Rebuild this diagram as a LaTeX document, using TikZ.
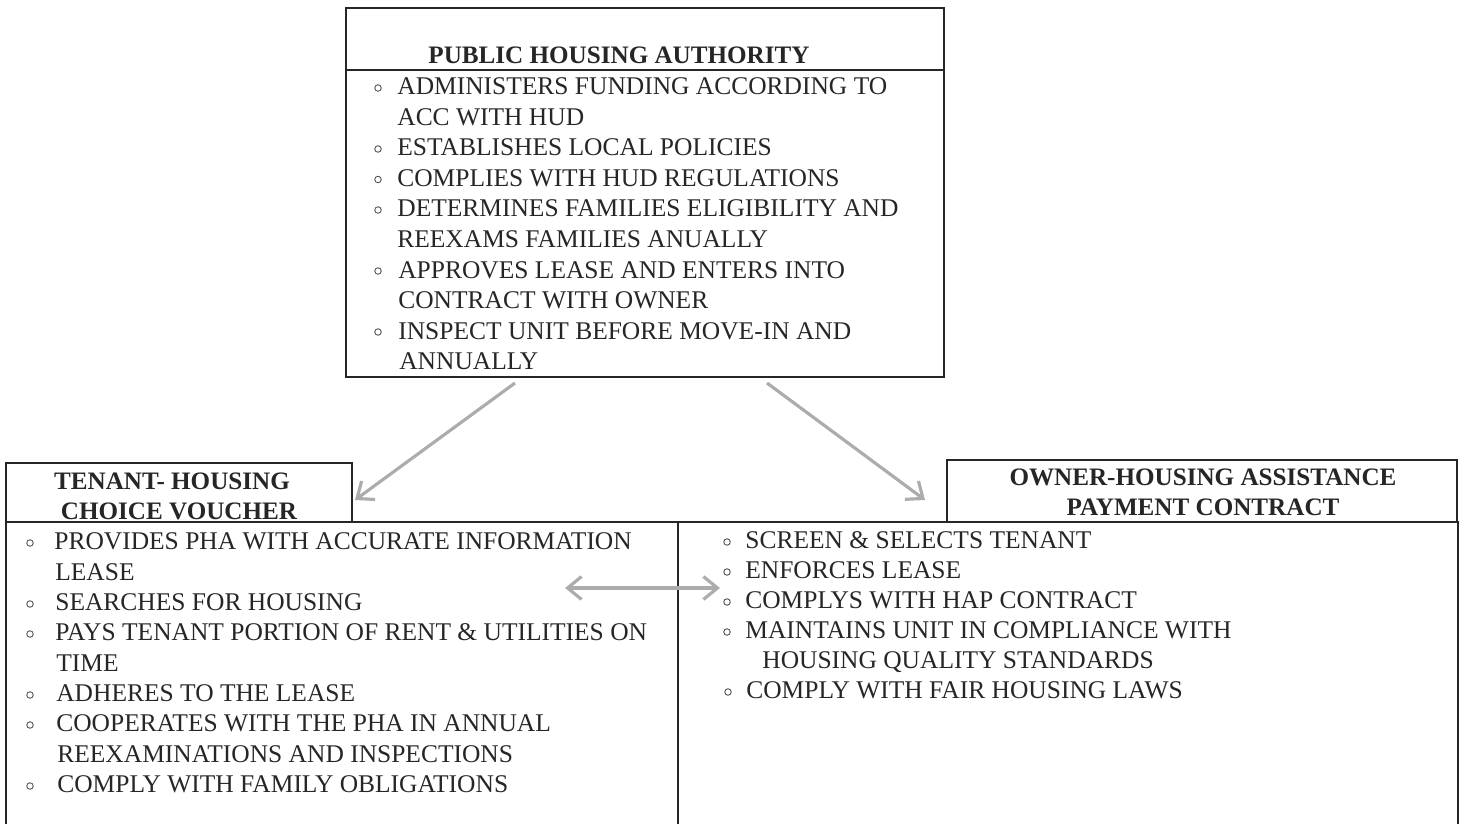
\documentclass[tikz,border=0pt]{standalone}
\usepackage{fontspec}
\setmainfont{Liberation Serif}
\usetikzlibrary{arrows.meta}

\tikzset{
  box/.style={draw=black!85, line width=0.8pt, inner sep=0pt},
  hd/.style={font=\fontsize{14.3}{17.2}\selectfont\bfseries, text=black!85, inner sep=0pt, anchor=base},
  ln/.style={font=\fontsize{14.5}{17.2}\selectfont, text=black!85, inner sep=0pt, anchor=base west},
  bul/.style={draw=black!70, circle, line width=0.5pt, minimum size=0.13cm, inner sep=0pt},
  link/.style={draw=gray!65, line width=1.8pt, -{Straight Barb[length=8pt,width=13pt]}},
  twoway/.style={draw=gray!65, line width=1.8pt, {Straight Barb[length=8pt,width=13pt]}-{Straight Barb[length=8pt,width=13pt]}}
}

\begin{document}
\begin{tikzpicture}[x=0.02cm, y=-0.02cm]
\useasboundingbox (0,0) rectangle (1464,824);

% boxes
\node[box, minimum width=11.96cm, minimum height=7.38cm] (pha) at (645,192.5) {};
\draw[box] (346,70) -- (944,70);
\node[box, minimum width=6.92cm, minimum height=1.18cm] (tenhd) at (179,492.5) {};
\node[box, minimum width=13.44cm, minimum height=6.16cm] (tenbody) at (342,676) {};
\node[box, minimum width=10.2cm, minimum height=1.24cm] (ownhd) at (1202,491) {};
\node[box, minimum width=15.6cm, minimum height=6.16cm] (ownbody) at (1068,676) {};

% headers
\node[hd] (h1) at (619,63.5) {PUBLIC HOUSING AUTHORITY};
\node[hd] (h2) at (172,489.5) {TENANT- HOUSING};
\node[hd] (h3) at (179,519.5) {CHOICE VOUCHER};
\node[hd] (h4) at (1203,485.5) {OWNER-HOUSING ASSISTANCE};
\node[hd] (h5) at (1203,515.5) {PAYMENT CONTRACT};

% public housing authority
\node[bul] (pb1) at (378,88) {};
\node[bul] (pb2) at (378,149) {};
\node[bul] (pb3) at (378,179.5) {};
\node[bul] (pb4) at (378,210) {};
\node[bul] (pb5) at (378,271) {};
\node[bul] (pb6) at (378,332) {};
\node[ln] (p1) at (397,95) {ADMINISTERS FUNDING ACCORDING TO};
\node[ln] (p2) at (397,125.5) {ACC WITH HUD};
\node[ln] (p3) at (397,156) {ESTABLISHES LOCAL POLICIES};
\node[ln] (p4) at (397,186.5) {COMPLIES WITH HUD REGULATIONS};
\node[ln] (p5) at (397,217) {DETERMINES FAMILIES ELIGIBILITY AND};
\node[ln] (p6) at (397,247.5) {REEXAMS FAMILIES ANUALLY};
\node[ln] (p7) at (398,278) {APPROVES LEASE AND ENTERS INTO};
\node[ln] (p8) at (398,308.5) {CONTRACT WITH OWNER};
\node[ln] (p9) at (398,339) {INSPECT UNIT BEFORE MOVE-IN AND};
\node[ln] (p10) at (399,369.5) {ANNUALLY};

% tenant
\node[bul] (tb1) at (30,543) {};
\node[bul] (tb2) at (30,604) {};
\node[bul] (tb3) at (30,634) {};
\node[bul] (tb4) at (30,695) {};
\node[bul] (tb5) at (30,725) {};
\node[bul] (tb6) at (30,786) {};
\node[ln] (t1) at (54,549.5) {PROVIDES PHA WITH ACCURATE INFORMATION};
\node[ln] (t2) at (55,580) {LEASE};
\node[ln] (t3) at (55,610) {SEARCHES FOR HOUSING};
\node[ln] (t4) at (55,640.5) {PAYS TENANT PORTION OF RENT \& UTILITIES ON};
\node[ln] (t5) at (56,671) {TIME};
\node[ln] (t6) at (56,701) {ADHERES TO THE LEASE};
\node[ln] (t7) at (56,731.5) {COOPERATES WITH THE PHA IN ANNUAL};
\node[ln] (t8) at (57,762) {REEXAMINATIONS AND INSPECTIONS};
\node[ln] (t9) at (57,792) {COMPLY WITH FAMILY OBLIGATIONS};

% owner
\node[bul] (ob1) at (727,542) {};
\node[bul] (ob2) at (727,572) {};
\node[bul] (ob3) at (727,602) {};
\node[bul] (ob4) at (727,632) {};
\node[bul] (ob5) at (728,692) {};
\node[ln] (o1) at (745,548.5) {SCREEN \& SELECTS TENANT};
\node[ln] (o2) at (745,578.5) {ENFORCES LEASE};
\node[ln] (o3) at (745,608.5) {COMPLYS WITH HAP CONTRACT};
\node[ln] (o4) at (745,638.5) {MAINTAINS UNIT IN COMPLIANCE WITH};
\node[ln] (o5) at (762,668.5) {HOUSING QUALITY STANDARDS};
\node[ln] (o6) at (746,698.5) {COMPLY WITH FAIR HOUSING LAWS};

% arrows
\coordinate (phaL) at (515,383);
\coordinate (phaR) at (767,383);
\coordinate (tenIn) at (355,500);
\coordinate (ownIn) at (925,500);
\coordinate (tenEnd) at (565,588);
\coordinate (ownEnd) at (720,588);
\draw[link] (phaL) -- (tenIn);
\draw[link] (phaR) -- (ownIn);
\draw[twoway] (tenEnd) -- (ownEnd);
\end{tikzpicture}
\end{document}
